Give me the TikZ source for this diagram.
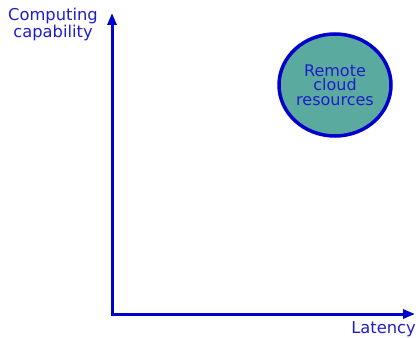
\documentclass[tikz,border=0pt]{standalone}
\usepackage{fontspec}
\setmainfont{DejaVu Sans}
\usetikzlibrary{arrows.meta,shapes.geometric}
\definecolor{axisblue}{RGB}{0,0,204}
\definecolor{textblue}{RGB}{30,30,200}
\definecolor{cloudteal}{RGB}{90,170,160}
\tikzset{
  axis/.style={draw=axisblue,line width=3pt,-{Triangle[length=12pt,width=9pt]}},
  lbl/.style={text=textblue,font=\fontsize{16.3}{17}\selectfont,inner sep=0pt,align=center},
  cloud/.style={ellipse,draw=axisblue,line width=3.5pt,fill=cloudteal,minimum width=112pt,minimum height=102pt,text=textblue,font=\fontsize{16}{14.5}\selectfont,align=center,inner sep=0pt}
}
\begin{document}
\begin{tikzpicture}[x=1pt,y=-1pt]
\useasboundingbox (0,0) rectangle (419,337);
\coordinate (o) at (112,314);
\coordinate (ytop) at (112,13);
\coordinate (xend) at (415,314);
\draw[axis] (o) -- (ytop);
\draw[axis] ([xshift=-1.5pt]o) -- (xend);
\node[lbl] (ylbl) at (53,25) {Computing\\capability};
\node[lbl,anchor=base east] (xlbl) at (416,333) {Latency};
\node[cloud] (cloud) at (335,85) {Remote\\cloud\\resources};
\end{tikzpicture}
\end{document}
